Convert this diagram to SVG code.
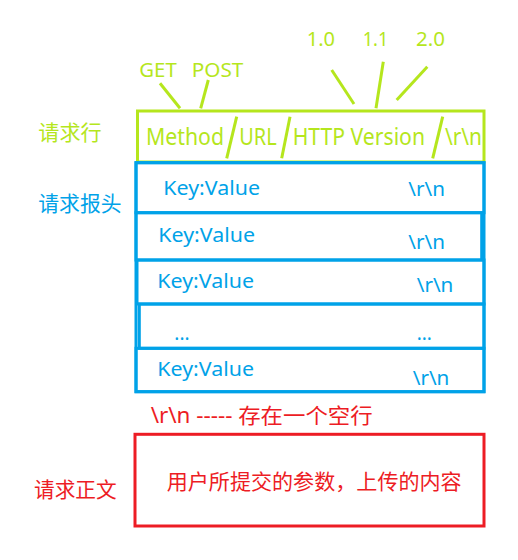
<svg xmlns="http://www.w3.org/2000/svg" width="518" height="560" viewBox="0 0 518 560">
<style>
.g{fill:#b5e61d}
.b{fill:#00a2e8}
.r{fill:#ed1c24}
text{font-family:"Noto Sans","Noto Sans CJK SC",sans-serif}
.cjk{font-family:"Noto Sans CJK SC",sans-serif}
.lat{font-size:20px}
.box{fill:none;stroke-width:3}
.gs{stroke:#b5e61d}
.bs{stroke:#00a2e8}
.rs{stroke:#ed1c24}
.ln{stroke:#b5e61d;stroke-width:3;fill:none;stroke-linecap:butt}
</style>
<rect width="518" height="560" fill="#ffffff"/>

<g id="method-labels">
<text class="g lat" x="139.3" y="77.3" textLength="37.4" lengthAdjust="spacingAndGlyphs">GET</text>
<text class="g lat" x="191.7" y="77.3" textLength="51.6" lengthAdjust="spacingAndGlyphs">POST</text>
</g>
<g id="version-labels">
<text class="g lat" x="306.7" y="46" textLength="28.3" lengthAdjust="spacingAndGlyphs">1.0</text>
<text class="g lat" x="362.7" y="46" textLength="25.6" lengthAdjust="spacingAndGlyphs">1.1</text>
<text class="g lat" x="416" y="46" textLength="29" lengthAdjust="spacingAndGlyphs">2.0</text>
</g>

<g id="connectors">
<line class="ln" x1="160" y1="83.3" x2="180" y2="108.3"/>
<line class="ln" x1="208.3" y1="80" x2="200.7" y2="108.3"/>
<line class="ln" x1="331.7" y1="70" x2="354" y2="104"/>
<line class="ln" x1="383.3" y1="61.7" x2="376" y2="108.3"/>
<line class="ln" x1="427.3" y1="66.7" x2="396.7" y2="100"/>
</g>

<g id="request-line">
<text class="g cjk" x="38.3" y="139.5" font-size="21" textLength="63.3" lengthAdjust="spacingAndGlyphs">请求行</text>
<rect class="box gs" x="137.5" y="111" width="346.5" height="51"/>
<text class="g" x="146" y="145" font-size="23" textLength="78" lengthAdjust="spacingAndGlyphs">Method</text>
<line class="ln" x1="236.7" y1="116.7" x2="226.7" y2="158.3"/>
<text class="g" x="239.3" y="145" font-size="23" textLength="37.4" lengthAdjust="spacingAndGlyphs">URL</text>
<line class="ln" x1="290" y1="116.7" x2="281.7" y2="158.3"/>
<text class="g" x="292.7" y="145" font-size="23" textLength="132.3" lengthAdjust="spacingAndGlyphs">HTTP Version</text>
<line class="ln" x1="442.7" y1="116.7" x2="432.7" y2="158.3"/>
<text class="g" x="445" y="145" font-size="23" textLength="37" lengthAdjust="spacingAndGlyphs">\r\n</text>
</g>

<g id="request-headers">
<text class="b cjk" x="38.3" y="210.5" font-size="21" textLength="83.3" lengthAdjust="spacingAndGlyphs">请求报头</text>
<rect class="box bs" x="136" y="162.7" width="348" height="229"/>
<rect class="box bs" x="136" y="162.7" width="348" height="50"/>
<rect class="box bs" x="136" y="212.7" width="345.7" height="47.3"/>
<rect class="box bs" x="137" y="260" width="347" height="44"/>
<rect class="box bs" x="139.3" y="304" width="344.7" height="44.3"/>
<rect class="box bs" x="136" y="348.3" width="348" height="43.4"/>
<text class="b" x="163.3" y="195" font-size="19" textLength="96.7" lengthAdjust="spacingAndGlyphs">Key:Value</text>
<text class="b" x="408.3" y="196" font-size="19" textLength="36.7" lengthAdjust="spacingAndGlyphs">\r\n</text>
<text class="b" x="158.3" y="242.3" font-size="19" textLength="96.7" lengthAdjust="spacingAndGlyphs">Key:Value</text>
<text class="b" x="408.3" y="249.3" font-size="19" textLength="36.7" lengthAdjust="spacingAndGlyphs">\r\n</text>
<text class="b" x="157.3" y="288.3" font-size="19" textLength="96.7" lengthAdjust="spacingAndGlyphs">Key:Value</text>
<text class="b" x="416.7" y="291.7" font-size="19" textLength="36.7" lengthAdjust="spacingAndGlyphs">\r\n</text>
<text class="b" x="174.3" y="340" font-size="19">...</text>
<text class="b" x="416.7" y="340" font-size="19">...</text>
<text class="b" x="157.3" y="376" font-size="19" textLength="96.7" lengthAdjust="spacingAndGlyphs">Key:Value</text>
<text class="b" x="412.7" y="385" font-size="19" textLength="36.7" lengthAdjust="spacingAndGlyphs">\r\n</text>
</g>

<g id="blank-line">
<text class="r" x="150.7" y="423.3" font-size="21" textLength="222" lengthAdjust="spacingAndGlyphs">\r\n ----- 存在一个空行</text>
</g>

<g id="request-body">
<text class="r cjk" x="34" y="497" font-size="21" textLength="82.7" lengthAdjust="spacingAndGlyphs">请求正文</text>
<rect class="box rs" x="135" y="434.3" width="349" height="91.7"/>
<text class="r cjk" x="166.7" y="489.3" font-size="21" textLength="295" lengthAdjust="spacingAndGlyphs">用户所提交的参数，上传的内容</text>
</g>
</svg>
